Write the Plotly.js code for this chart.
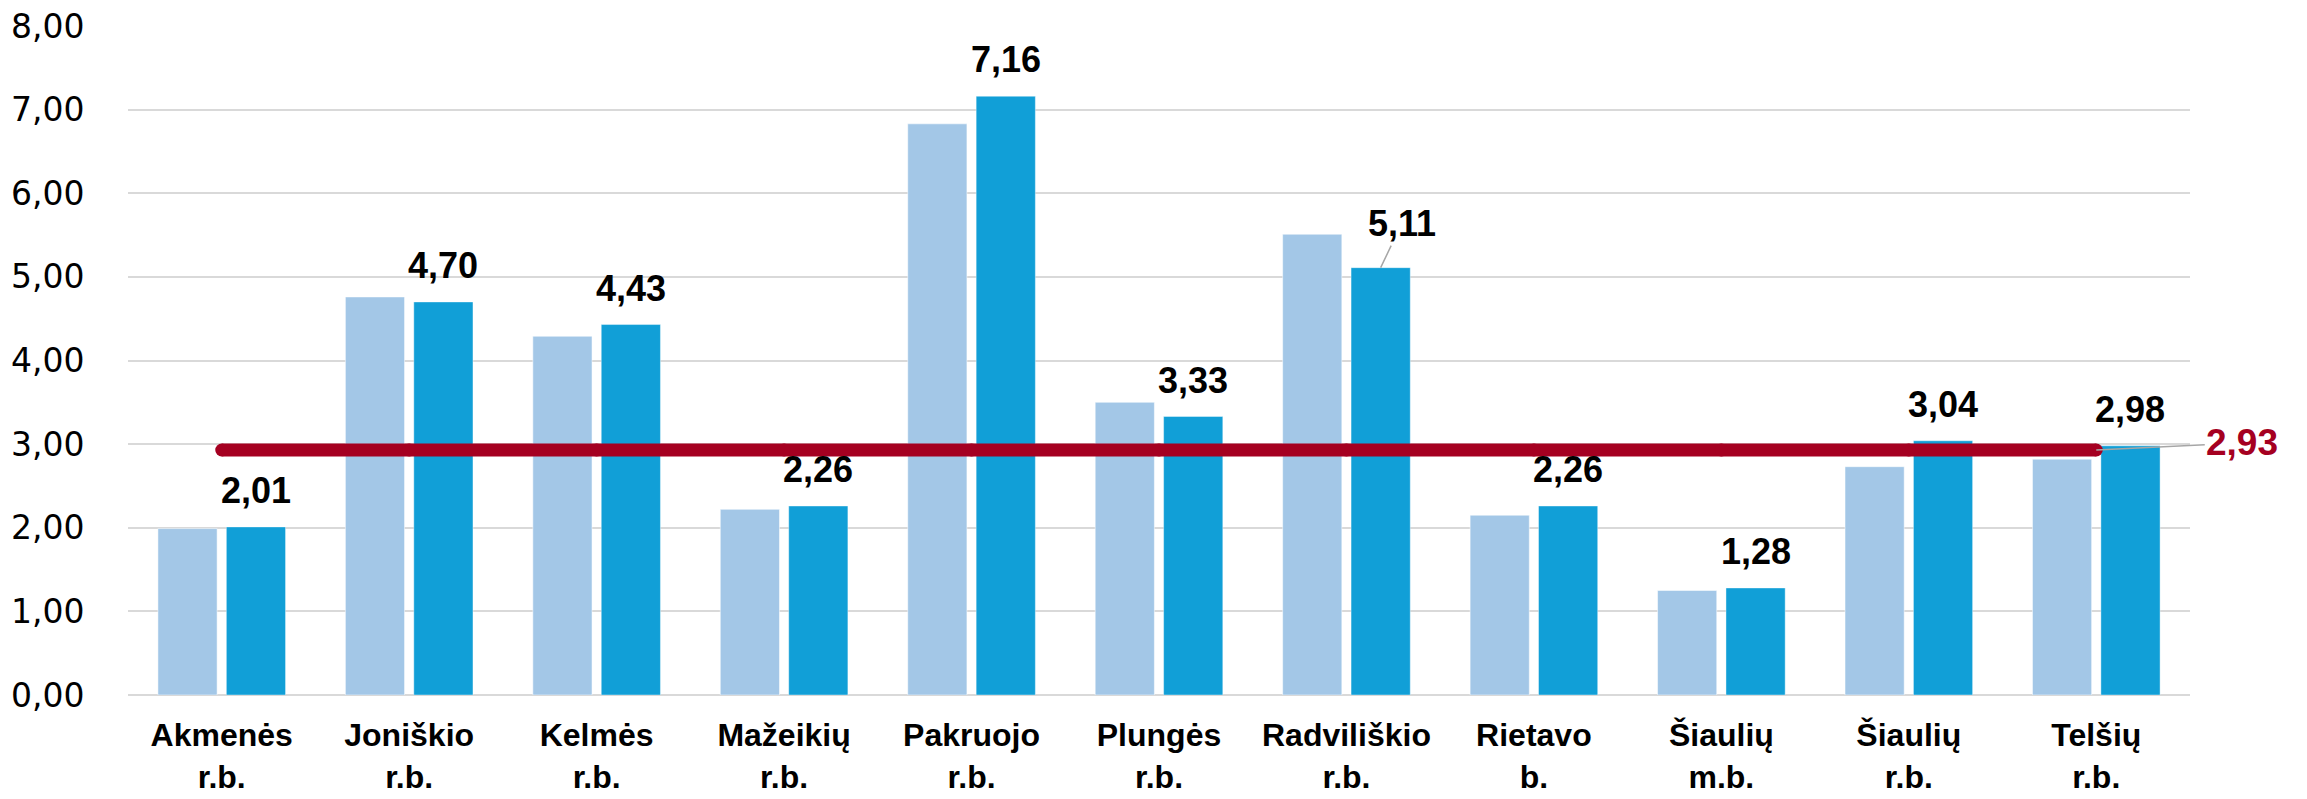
<!DOCTYPE html>
<html>
<head>
<meta charset="utf-8">
<script src="https://cdn.plot.ly/plotly-3.0.1.min.js"></script>
<style>
  html, body { margin: 0; padding: 0; background: #fff; }
  #chart { width: 2307px; height: 799px; }
</style>
</head>
<body>
<div id="chart"></div>
<script>
var categories = ['Akmenės<br>r.b.', 'Joniškio<br>r.b.', 'Kelmės<br>r.b.', 'Mažeikių<br>r.b.',
  'Pakruojo<br>r.b.', 'Plungės<br>r.b.', 'Radviliškio<br>r.b.', 'Rietavo<br>b.',
  'Šiaulių<br>m.b.', 'Šiaulių<br>r.b.', 'Telšių<br>r.b.'];
var prevValues = [1.99, 4.76, 4.29, 2.22, 6.83, 3.50, 5.51, 2.15, 1.25, 2.73, 2.82];
var currValues = [2.01, 4.70, 4.43, 2.26, 7.16, 3.33, 5.11, 2.26, 1.28, 3.04, 2.98];
var averageValue = 2.93;

var W = 2307, H = 799;
var margin = {l: 128, r: 117, t: 26, b: 104};
var bargap = 0.27;
// pixel offset of the second bar in each group from the category centre
var catWidth = (W - margin.l - margin.r) / categories.length;
var darkShift = (1 - bargap) / 4 * catWidth;

function fmt(v) {
  return v.toFixed(2).replace('.', ',');
}

var prev = {
  x: categories,
  y: prevValues,
  type: 'bar',
  name: 'Ankstesni',
  marker: {color: '#A3C7E7', line: {color: 'rgba(255,255,255,0.5)', width: 1}}
};

var curr = {
  x: categories,
  y: currValues,
  type: 'bar',
  name: 'Dabartiniai',
  marker: {color: '#119FD7', line: {color: 'rgba(255,255,255,0.4)', width: 1}}
};

var avg = {
  x: categories,
  y: categories.map(function () { return averageValue; }),
  type: 'scatter',
  mode: 'lines+markers',
  name: 'Vidurkis',
  line: {color: '#A50021', width: 13},
  marker: {color: '#A50021', size: 13}
};

var labelFont = {family: 'Liberation Sans, Arial, sans-serif', size: 36, color: '#000', weight: 'bold'};

var annotations = currValues.map(function (v, i) {
  var a = {
    x: categories[i],
    y: v,
    text: fmt(v),
    font: labelFont,
    xshift: darkShift,
    showarrow: false,
    yanchor: 'bottom',
    yshift: 14
  };
  if (i === 6) {
    a.showarrow = true;
    a.arrowhead = 0;
    a.arrowwidth = 1.5;
    a.arrowcolor = '#A6A6A6';
    a.ax = 21;
    a.ay = -44;
    a.yanchor = 'middle';
    a.yshift = 0;
    a.standoff = 0;
  }
  return a;
});

annotations.push({
  x: categories[categories.length - 1],
  y: averageValue,
  text: fmt(averageValue),
  font: {family: 'Liberation Sans, Arial, sans-serif', size: 37, color: '#A50021', weight: 'bold'},
  showarrow: true,
  arrowhead: 0,
  arrowwidth: 1.5,
  arrowcolor: '#A6A6A6',
  ax: 146,
  ay: -7,
  standoff: 0
});

var layout = {
  width: W,
  height: H,
  margin: margin,
  paper_bgcolor: '#fff',
  plot_bgcolor: '#fff',
  separators: ', ',
  showlegend: false,
  barmode: 'group',
  bargap: bargap,
  bargroupgap: 0.135,
  xaxis: {
    type: 'category',
    range: [-0.5, categories.length - 0.5],
    showgrid: false,
    zeroline: false,
    showline: false,
    ticks: 'outside',
    ticklen: 12,
    tickcolor: 'rgba(0,0,0,0)',
    tickfont: {family: 'Liberation Sans, Arial, sans-serif', size: 32, color: '#000', weight: 'bold'}
  },
  yaxis: {
    range: [0, 8],
    dtick: 1,
    tickformat: '.2f',
    showgrid: true,
    gridcolor: '#D9D9D9',
    gridwidth: 2,
    zeroline: true,
    zerolinecolor: '#D9D9D9',
    zerolinewidth: 2,
    showline: false,
    ticks: 'outside',
    ticklen: 36,
    tickcolor: 'rgba(0,0,0,0)',
    tickfont: {family: 'DejaVu Sans, sans-serif', size: 33, color: '#000'}
  },
  annotations: annotations
};

Plotly.newPlot('chart', [prev, curr, avg], layout, {displayModeBar: false, staticPlot: true});
</script>
</body>
</html>
